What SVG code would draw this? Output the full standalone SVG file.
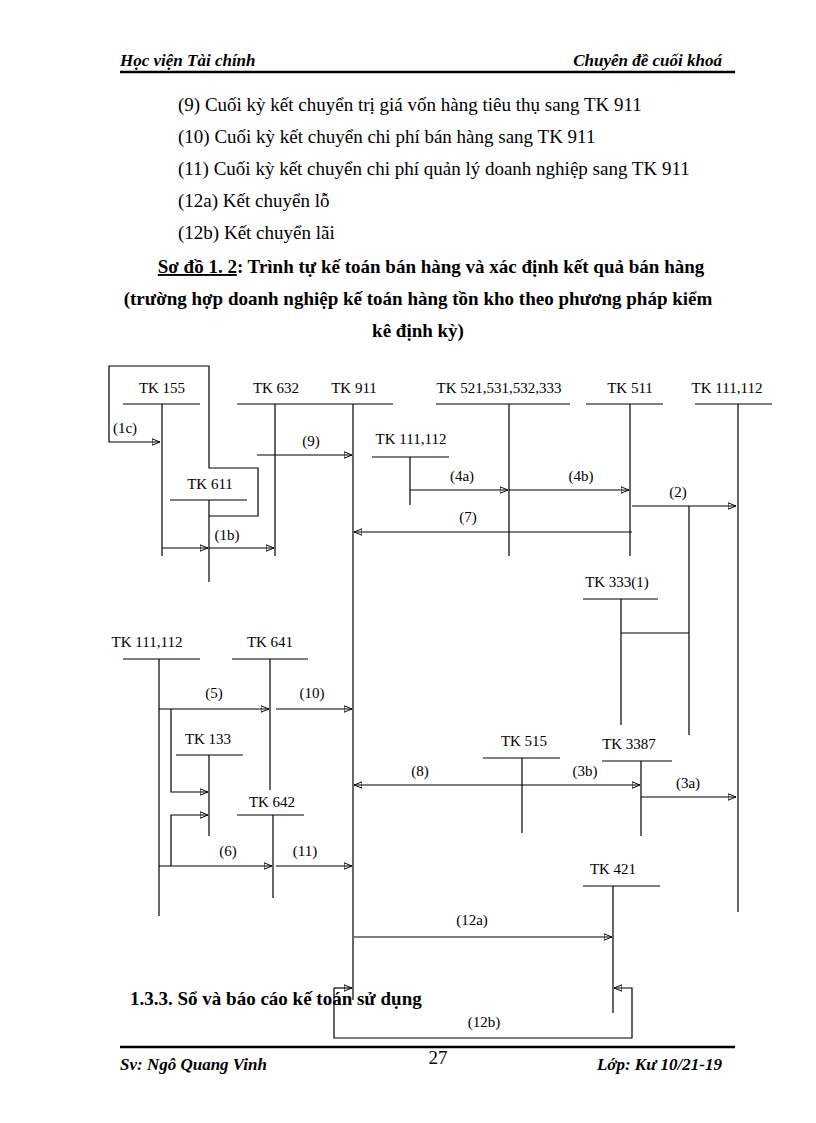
<svg xmlns="http://www.w3.org/2000/svg" width="816" height="1123" viewBox="0 0 816 1123">
<defs>
<marker id="ah" viewBox="0 0 10 10" refX="10" refY="5" markerWidth="8" markerHeight="8" markerUnits="userSpaceOnUse" orient="auto-start-reverse"><path d="M0,1 L10,5 L0,9 Z" fill="#000"/></marker>
</defs>
<style>
text{font-family:"Liberation Serif","DejaVu Serif","Times New Roman",serif;fill:#000}
.h{font-size:17px;font-style:italic;font-weight:bold}
.b{font-size:19px}
.t{font-size:19px;font-weight:bold}
.n{font-size:15px;text-anchor:middle}
line,path,polyline{stroke:#000;stroke-width:1.2;fill:none}
.a{marker-end:url(#ah)}
</style>
<rect width="816" height="1123" fill="#fff"/>
<text class="h" x="120" y="66">Học viện Tài chính</text>
<text class="h" x="722" y="66" text-anchor="end">Chuyên đề cuối khoá</text>
<line x1="120" y1="72" x2="735" y2="72" style="stroke-width:2.5"/>
<text class="b" x="178" y="111">(9) Cuối kỳ kết chuyển trị giá vốn hàng tiêu thụ sang TK 911</text>
<text class="b" x="178" y="143">(10) Cuối kỳ kết chuyển chi phí bán hàng sang TK 911</text>
<text class="b" x="178" y="175">(11) Cuối kỳ kết chuyển chi phí quản lý doanh nghiệp sang TK 911</text>
<text class="b" x="178" y="207">(12a) Kết chuyển lỗ</text>
<text class="b" x="178" y="239">(12b) Kết chuyển lãi</text>
<text class="t" x="431" y="273" text-anchor="middle"><tspan text-decoration="underline">Sơ đồ 1. 2</tspan>: Trình tự kế toán bán hàng và xác định kết quả bán hàng</text>
<text class="t" x="418" y="305" text-anchor="middle">(trường hợp doanh nghiệp kế toán hàng tồn kho theo phương pháp kiểm</text>
<text class="t" x="418" y="337" text-anchor="middle">kê định kỳ)</text>

<g id="tk155"><text class="n" x="162" y="393">TK 155</text><line x1="123" y1="404" x2="200" y2="404"/><line x1="162" y1="404" x2="162" y2="556"/></g>
<g id="tk611"><text class="n" x="210" y="489">TK 611</text><line x1="170" y1="500" x2="247" y2="500"/><line x1="209" y1="500" x2="209" y2="582"/></g>
<g id="tk632"><text class="n" x="276" y="393">TK 632</text><line x1="237" y1="404" x2="315" y2="404"/><line x1="275" y1="404" x2="275" y2="556"/></g>
<g id="tk911"><text class="n" x="354" y="393">TK 911</text><line x1="315" y1="404" x2="393" y2="404"/><line x1="353" y1="404" x2="353" y2="1000"/></g>
<g id="tk111a"><text class="n" x="411" y="444">TK 111,112</text><line x1="372" y1="457" x2="449" y2="457"/><line x1="410" y1="457" x2="410" y2="505"/></g>
<g id="tk521"><text class="n" x="499" y="393">TK 521,531,532,333</text><line x1="436" y1="404" x2="570" y2="404"/><line x1="509" y1="404" x2="509" y2="556"/></g>
<g id="tk511"><text class="n" x="630" y="393">TK 511</text><line x1="586" y1="404" x2="663" y2="404"/><line x1="630" y1="404" x2="630" y2="556"/></g>
<g id="tk111b"><text class="n" x="727" y="393">TK 111,112</text><line x1="695" y1="404" x2="772" y2="404"/><line x1="738" y1="404" x2="738" y2="912"/></g>
<g id="tk3331"><text class="n" x="617" y="587">TK 333(1)</text><line x1="583" y1="599" x2="658" y2="599"/><line x1="621" y1="599" x2="621" y2="725"/></g>
<g id="tk111c"><text class="n" x="147" y="647">TK 111,112</text><line x1="123" y1="659" x2="200" y2="659"/><line x1="159" y1="659" x2="159" y2="916"/></g>
<g id="tk641"><text class="n" x="270" y="647">TK 641</text><line x1="232" y1="659" x2="308" y2="659"/><line x1="270" y1="659" x2="270" y2="790"/></g>
<g id="tk133"><text class="n" x="208" y="744">TK 133</text><line x1="176" y1="755" x2="243" y2="755"/><line x1="209" y1="755" x2="209" y2="836"/></g>
<g id="tk642"><text class="n" x="272" y="807">TK 642</text><line x1="237" y1="815" x2="304" y2="815"/><line x1="273" y1="815" x2="273" y2="898"/></g>
<g id="tk515"><text class="n" x="524" y="746">TK 515</text><line x1="483" y1="758" x2="560" y2="758"/><line x1="522" y1="758" x2="522" y2="833"/></g>
<g id="tk3387"><text class="n" x="629" y="749">TK 3387</text><line x1="602" y1="761" x2="672" y2="761"/><line x1="641" y1="761" x2="641" y2="836"/></g>
<g id="tk421"><text class="n" x="613" y="874">TK 421</text><line x1="583" y1="886" x2="660" y2="886"/><line x1="613" y1="886" x2="613" y2="1013"/></g>

<g id="connectors">
<polyline class="a" points="209,516 258,516 258,468 209,468 209,366 109,366 109,442 160,442"/>
<text class="n" x="125" y="433">(1c)</text>
<line class="a" x1="162" y1="548" x2="208" y2="548"/>
<line class="a" x1="209" y1="548" x2="274" y2="548"/>
<text class="n" x="227" y="540">(1b)</text>
<line class="a" x1="257" y1="455" x2="352" y2="455"/>
<text class="n" x="311" y="446">(9)</text>
<line class="a" x1="410" y1="490" x2="508" y2="490"/>
<text class="n" x="462" y="481">(4a)</text>
<line class="a" x1="509" y1="490" x2="629" y2="490"/>
<text class="n" x="581" y="481">(4b)</text>
<line class="a" x1="632" y1="506" x2="736" y2="506"/>
<text class="n" x="678" y="497">(2)</text>
<line x1="689" y1="506" x2="689" y2="735"/>
<line x1="621" y1="633" x2="689" y2="633"/>
<line class="a" x1="632" y1="532" x2="354" y2="532"/>
<text class="n" x="468" y="522">(7)</text>
<line class="a" x1="159" y1="709" x2="269" y2="709"/>
<text class="n" x="214" y="698">(5)</text>
<line class="a" x1="276" y1="709" x2="352" y2="709"/>
<text class="n" x="312" y="698">(10)</text>
<polyline class="a" points="171,709 171,792 208,792"/>
<polyline class="a" points="171,866 171,815 208,815"/>
<line class="a" x1="159" y1="866" x2="272" y2="866"/>
<text class="n" x="228" y="856">(6)</text>
<line class="a" x1="276" y1="866" x2="352" y2="866"/>
<text class="n" x="305" y="856">(11)</text>
<line class="a" x1="354" y1="785" x2="640" y2="785" style="marker-start:url(#ah)"/>
<text class="n" x="420" y="776">(8)</text>
<text class="n" x="585" y="776">(3b)</text>
<line class="a" x1="641" y1="797" x2="736" y2="797"/>
<text class="n" x="688" y="788">(3a)</text>
<line class="a" x1="354" y1="937" x2="612" y2="937"/>
<text class="n" x="472" y="925">(12a)</text>
<polyline class="a" points="334,988 334,1038 632,1038 632,988 614,988"/>
<line class="a" x1="334" y1="988" x2="352" y2="988"/>
<text class="n" x="484" y="1027">(12b)</text>
</g>
<text class="t" x="130" y="1005">1.3.3. Sổ và báo cáo kế toán sử dụng</text>
<line x1="120" y1="1047" x2="735" y2="1047" style="stroke-width:2.5"/>
<text class="h" x="120" y="1070">Sv: Ngô Quang Vinh</text>
<text class="b" x="438" y="1064" text-anchor="middle">27</text>
<text class="h" x="722" y="1070" text-anchor="end">Lớp: Kư 10/21-19</text>
</svg>
